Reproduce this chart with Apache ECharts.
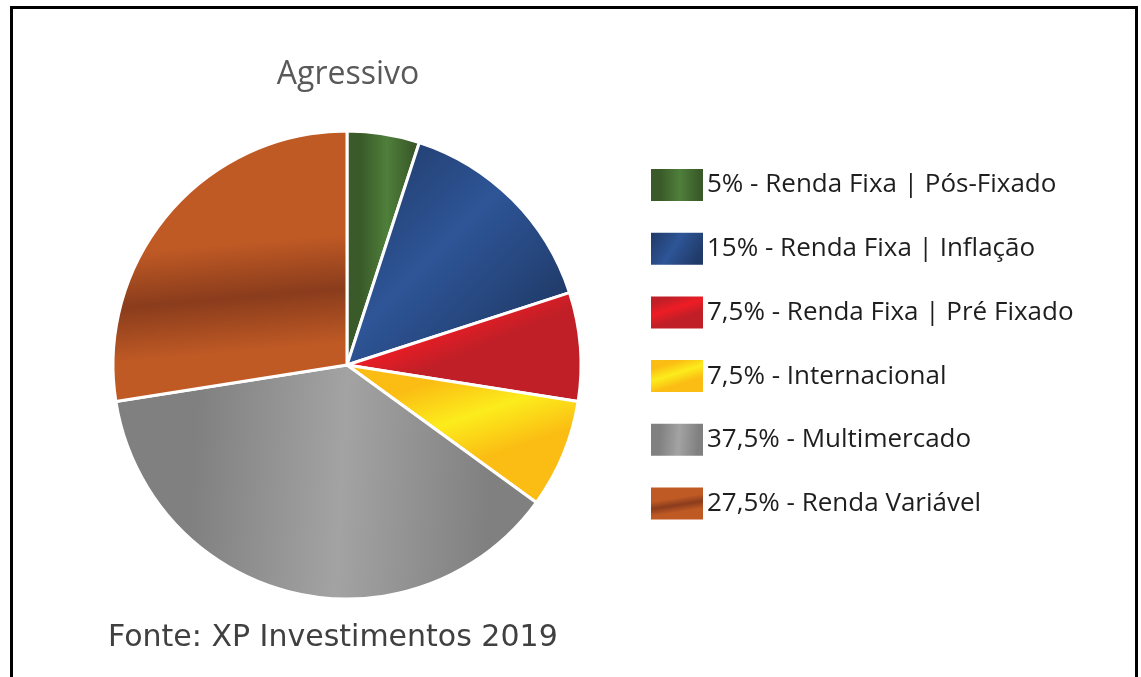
<!DOCTYPE html>
<html>
<head>
<meta charset="utf-8">
<script src="https://cdn.jsdelivr.net/npm/echarts@6/dist/echarts.min.js"></script>
<style>
  html, body { margin: 0; padding: 0; background: #fff; }
  #main { width: 1141px; height: 677px; }
</style>
</head>
<body>
<div id="main"></div>
<script>
// dados do gráfico (perfil agressivo)
var categorias = ['Renda Fixa | Pós-Fixado', 'Renda Fixa | Inflação', 'Renda Fixa | Pré Fixado',
    'Internacional', 'Multimercado', 'Renda Variável'];
var valores = [5, 15, 7.5, 7.5, 37.5, 27.5];
var tituloTxt = 'Agressivo';
var fonteTxt = 'Fonte: XP Investimentos 2019';

// cores com brilho, parecido com o estilo do Excel
// [cor base, cor da faixa, x, y, x2, y2, centro da faixa, meia largura]
var grad = [
    ['#3a5a29', '#4f7f3b', 0, 0, 1, 0, 0.55, 0.35],
    ['#203a68', '#2e5597', 0, 0, 1, 1, 0.45, 0.4],
    ['#c11f27', '#ee1c25', 0, 0, 0.2, 1, 0.55, 0.3],
    ['#fbbd13', '#fcec1c', 0, 0, 0.2, 1, 0.6, 0.3],
    ['#808080', '#a3a3a3', 0, 0, 1, 0.1, 0.55, 0.35],
    ['#c05a25', '#8a3c1c', 0, 0, 0.1, 1, 0.65, 0.2]
];

function fmt(v) {
    return v.toString().replace('.', ',') + '%';
}

var myChart = echarts.init(document.getElementById('main'));

var dados = [];
for (var i = 0; i < categorias.length; i++) {
    var g = grad[i];
    dados.push({
        name: fmt(valores[i]) + ' - ' + categorias[i],
        value: valores[i],
        itemStyle: {
            color: new echarts.graphic.LinearGradient(g[2], g[3], g[4], g[5], [
                {offset: 0, color: g[0]},
                {offset: Math.max(0, g[6] - g[7]), color: g[0]},
                {offset: g[6], color: g[1]},
                {offset: Math.min(1, g[6] + g[7]), color: g[0]},
                {offset: 1, color: g[0]}
            ])
        }
    });
}

var option = {
    backgroundColor: '#fff',
    animation: false,
    legend: {
        orient: 'vertical',
        left: 649,
        top: 167,
        padding: 0,
        itemWidth: 54,
        itemHeight: 34,
        itemGap: 27.7,
        icon: 'rect',
        selectedMode: false,
        textStyle: {
            fontFamily: 'Open Sans',
            fontSize: 26,
            lineHeight: 34,
            color: '#1e1e1e',
            padding: [0, 0, 0, -2]
        },
        data: dados.map(function (d) { return d.name; })
    },
    series: [{
        type: 'pie',
        center: [347, 365],
        radius: [0, 234],
        startAngle: 90,
        clockwise: true,
        label: {show: false},
        labelLine: {show: false},
        emphasis: {disabled: true},
        itemStyle: {borderColor: '#fff', borderWidth: 3},
        data: dados
    }],
    graphic: [
        {
            type: 'rect',
            shape: {x: 11.5, y: 7.5, width: 1125, height: 720},
            style: {fill: 'none', stroke: '#000', lineWidth: 3}
        },
        {
            type: 'text',
            x: 348, y: 75,
            style: {
                text: tituloTxt, fill: '#595959', fontFamily: 'Open Sans', fontSize: 32,
                textAlign: 'center', textVerticalAlign: 'middle'
            }
        },
        {
            type: 'text',
            x: 108, y: 638,
            style: {
                text: fonteTxt, fill: '#404040', fontFamily: 'DejaVu Sans', fontSize: 30,
                textAlign: 'left', textVerticalAlign: 'middle'
            }
        }
    ]
};

myChart.setOption(option);
</script>
</body>
</html>
